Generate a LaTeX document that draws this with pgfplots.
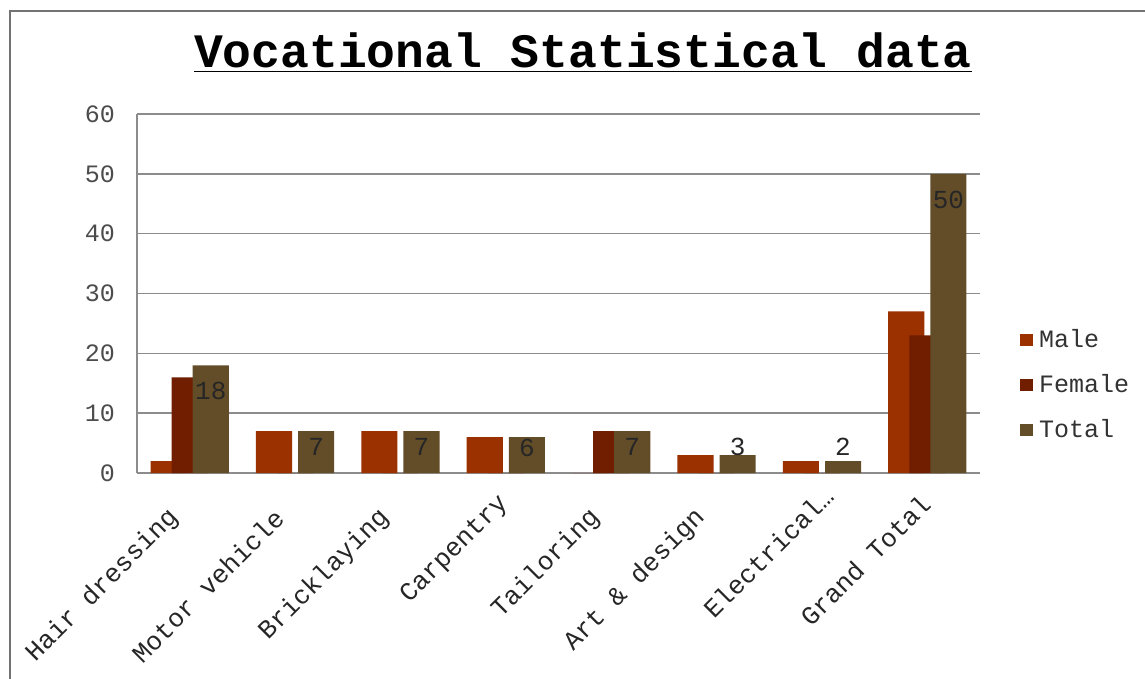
\documentclass[border=0pt]{standalone}
\usepackage{fontspec}
\setmainfont{Liberation Mono}
\usepackage{pgfplots}
\pgfplotsset{compat=1.18}
\definecolor{male}{RGB}{156,49,0}
\definecolor{female}{RGB}{112,29,0}
\definecolor{total}{RGB}{99,77,41}
\definecolor{gridc}{RGB}{140,140,140}
\definecolor{framec}{RGB}{115,115,115}
\begin{document}
\begin{tikzpicture}
\path[use as bounding box] (0pt,0pt) rectangle (572.5pt,-339.5pt);
\clip (0pt,0pt) rectangle (572.5pt,-339.5pt);
\fill[white] (0pt,0pt) rectangle (572.5pt,-339.5pt);
\draw[framec, line width=1.3pt] (5pt,-5.5pt) rectangle (600pt,-380pt);
\node[anchor=base] at (291.5pt,-34pt) {\fontsize{24}{28}\selectfont\bfseries\underline{Vocational Statistical data}};
\begin{axis}[
  at={(68.5pt,-236.5pt)}, anchor=south west,
  width=421.5pt, height=179.5pt, scale only axis,
  xmin=-0.5, xmax=7.5, ymin=0, ymax=60,
  ytick={0,10,...,60},
  xtick={0,...,7},
  xticklabels={Hair dressing, Motor vehicle, Bricklaying, Carpentry\hspace*{-10pt}, Tailoring, Art \& design, Electrical…\hspace*{-16pt}, Grand Total\hspace*{-10pt}},
  axis x line*=bottom, axis y line*=left,
  axis line style={gridc, line width=0.7pt},
  major tick length=0pt,
  ymajorgrids, grid style={gridc, line width=0.7pt},
  /pgf/number format/assume math mode=true,
  yticklabel style={font=\fontsize{12.5}{14}\selectfont, text=black!70, xshift=-7.5pt},
  xticklabel style={font=\fontsize{13}{15}\selectfont, text=black!85, rotate=45, anchor=east, xshift=-16.5pt, yshift=-9pt},
  legend style={draw=none, fill=none, at={(1.0475,0.246)}, anchor=west, inner sep=0pt, row sep=12pt, column sep=3pt, font=\fontsize{12.5}{14}\selectfont, text=black!80, nodes={inner sep=0pt}},
  legend cell align=left,
]
\addplot[ybar, bar width=0.342, bar shift=-0.2, fill=male, draw=none,
  legend image code/.code={\fill[male] (0pt,-3pt) rectangle (6.3pt,3pt);}]
  coordinates {(0,2) (1,7) (2,7) (3,6) (4,0) (5,3) (6,2) (7,27)};
\addlegendentry{Male}
\addplot[ybar, bar width=0.342, bar shift=0, fill=female, draw=none,
  legend image code/.code={\fill[female] (0pt,-3pt) rectangle (6.3pt,3pt);}]
  coordinates {(0,16) (1,0) (2,0) (3,0) (4,7) (5,0) (6,0) (7,23)};
\addlegendentry{Female}
\addplot[ybar, bar width=0.342, bar shift=0.2, fill=total, draw=none,
  legend image code/.code={\fill[total] (0pt,-3pt) rectangle (6.3pt,3pt);}]
  coordinates {(0,18) (1,7) (2,7) (3,6) (4,7) (5,3) (6,2) (7,50)};
\addlegendentry{Total}
\addplot[draw=none, forget plot, nodes near coords, point meta=explicit symbolic,
  nodes near coords style={anchor=center, font=\fontsize{13}{15}\selectfont, text=black!85}]
  coordinates {(0.2,13.7)[18] (1.2,4.35)[7] (2.2,4.35)[7] (3.2,4.2)[6] (4.2,4.35)[7] (5.2,4.35)[3] (6.2,4.35)[2] (7.2,45.6)[50]};
\end{axis}
\end{tikzpicture}
\end{document}
